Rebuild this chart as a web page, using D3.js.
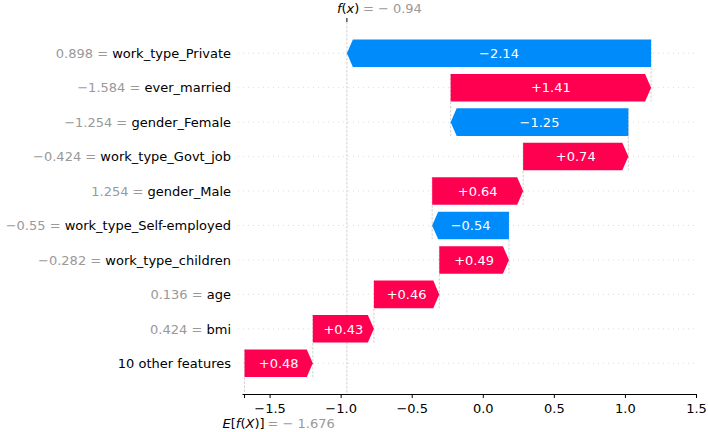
<!DOCTYPE html>
<html lang="en">
<head>
    <meta charset="UTF-8">
    <title>waterfall</title>
    <script src="https://cdn.jsdelivr.net/npm/d3@7"></script>
    <style>
        body { margin: 0; background: #fff; }
        svg text { font-family: "DejaVu Sans", sans-serif; }
    </style>
</head>
<body>
    <div id="chart"></div>
    <script>
        // data, top row first
        const features = ["work_type_Private", "ever_married", "gender_Female", "work_type_Govt_job",
            "gender_Male", "work_type_Self-employed", "work_type_children", "age", "bmi", "10 other features"];
        const featureValues = [0.898, -1.584, -1.254, -0.424, 1.254, -0.55, -0.282, 0.136, 0.424, null];
        const shapValues = [-2.14, 1.41, -1.25, 0.74, 0.64, -0.54, 0.49, 0.46, 0.43, 0.48];
        const baseValue = -1.676;
        const fxValue = -0.94;
        const xTicks = [-1.5, -1.0, -0.5, 0.0, 0.5, 1.0, 1.5];

        const width = 708, height = 432;
        const red = "#ff0051", blue = "#008bfb";
        const axisY = 394;
        const headLen = 6;

        const svg = d3.select("#chart").append("svg")
            .attr("width", width)
            .attr("height", height);

        const x = d3.scaleLinear().domain([-1.694, 1.5]).range([242, 696]);
        const y = d3.scaleBand().domain(features).range([36, 380.5]);
        const barH = y.bandwidth() * 0.8;
        const cy = d => y(d) + y.bandwidth() / 2;

        // running sums from the bottom row up
        const rows = features.map((f, i) => ({ name: f, fv: featureValues[i], v: shapValues[i] }));
        let cum = baseValue;
        for (let i = rows.length - 1; i >= 0; i--) {
            rows[i].start = cum;
            cum += rows[i].v;
            rows[i].end = cum;
        }
        const fxPos = cum;

        const fmtFv = d3.format("~g");
        const fmtV = d3.format("+.2f");

        // grid lines
        svg.append("g")
            .selectAll("line")
            .data(features)
            .join("line")
            .attr("x1", 238).attr("x2", 698)
            .attr("y1", d => cy(d)).attr("y2", d => cy(d))
            .attr("stroke", "#cccccc")
            .attr("stroke-width", 0.7)
            .attr("stroke-dasharray", "1,4");

        // connector lines
        const conn = svg.append("g")
            .attr("stroke", "#bbbbbb")
            .attr("stroke-width", 0.7)
            .attr("stroke-dasharray", "2.5,1.5");
        rows.forEach((r, i) => {
            const top = cy(r.name) - barH / 2;
            const bottom = i < rows.length - 1 ? cy(rows[i + 1].name) + barH / 2 : axisY;
            conn.append("line")
                .attr("x1", x(r.start)).attr("x2", x(r.start))
                .attr("y1", top).attr("y2", bottom);
        });
        conn.append("line")
            .attr("x1", x(fxPos)).attr("x2", x(fxPos))
            .attr("y1", 22).attr("y2", axisY);

        // bars as arrows
        function arrow(r) {
            const c = cy(r.name), t = c - barH / 2, b = c + barH / 2;
            const lo = x(Math.min(r.start, r.end)), hi = x(Math.max(r.start, r.end));
            const h = Math.min(headLen, hi - lo);
            if (r.v >= 0) {
                return `M${lo},${t}L${hi - h},${t}L${hi},${c}L${hi - h},${b}L${lo},${b}Z`;
            }
            return `M${hi},${t}L${lo + h},${t}L${lo},${c}L${lo + h},${b}L${hi},${b}Z`;
        }
        svg.append("g")
            .selectAll("path")
            .data(rows)
            .join("path")
            .attr("d", arrow)
            .attr("fill", d => d.v >= 0 ? red : blue);

        svg.append("g")
            .selectAll("text")
            .data(rows)
            .join("text")
            .attr("x", d => (x(d.start) + x(d.end)) / 2)
            .attr("y", d => cy(d.name))
            .attr("dy", "0.36em")
            .attr("text-anchor", "middle")
            .attr("font-size", 13)
            .attr("fill", "#fff")
            .text(d => fmtV(d.v));

        // y labels
        const labels = svg.append("g")
            .selectAll("text")
            .data(rows)
            .join("text")
            .attr("x", 231)
            .attr("y", d => cy(d.name))
            .attr("dy", "0.36em")
            .attr("text-anchor", "end")
            .attr("font-size", 13);
        labels.filter(d => d.fv !== null)
            .append("tspan")
            .attr("fill", "#999999")
            .text(d => fmtFv(d.fv) + " = ");
        labels.append("tspan")
            .attr("fill", "#000")
            .text(d => d.name);

        // bottom axis
        const axis = svg.append("g")
            .attr("transform", `translate(0,${axisY})`)
            .call(d3.axisBottom(x).tickValues(xTicks).tickSize(4).tickSizeOuter(0).tickFormat(d3.format(".1f")));
        axis.selectAll("text").attr("font-size", 13).attr("fill", "#000").attr("dy", "0.9em")
            .style("font-family", "DejaVu Sans");
        axis.selectAll("line, path").attr("stroke", "#000");
        axis.append("line")
            .attr("x1", x(baseValue)).attr("x2", x(baseValue))
            .attr("y1", 0).attr("y2", 4)
            .attr("stroke", "#000");

        // E[f(X)] label
        const eLab = svg.append("text")
            .attr("x", x(baseValue) - 22)
            .attr("y", 428)
            .attr("font-size", 13);
        eLab.append("tspan").attr("font-style", "italic").text("E");
        eLab.append("tspan").text("[");
        eLab.append("tspan").attr("font-style", "italic").text("f");
        eLab.append("tspan").text("(");
        eLab.append("tspan").attr("font-style", "italic").text("X");
        eLab.append("tspan").text(")]");
        svg.append("text")
            .attr("x", x(baseValue) + 23)
            .attr("y", 428)
            .attr("font-size", 13)
            .attr("fill", "#999999")
            .text("= " + d3.format(".3f")(baseValue).replace("−", "− "));

        // f(x) top tick + label
        svg.append("line")
            .attr("x1", x(fxPos)).attr("x2", x(fxPos))
            .attr("y1", 18).attr("y2", 22)
            .attr("stroke", "#000");
        const fLab = svg.append("text")
            .attr("x", x(fxPos) - 10)
            .attr("y", 13)
            .attr("font-size", 13);
        fLab.append("tspan").attr("font-style", "italic").text("f");
        fLab.append("tspan").text("(");
        fLab.append("tspan").attr("font-style", "italic").text("x");
        fLab.append("tspan").text(")");
        svg.append("text")
            .attr("x", x(fxPos) + 16)
            .attr("y", 13)
            .attr("font-size", 13)
            .attr("fill", "#999999")
            .text("= " + d3.format(".2f")(fxValue).replace("−", "− "));
    </script>
</body>
</html>
